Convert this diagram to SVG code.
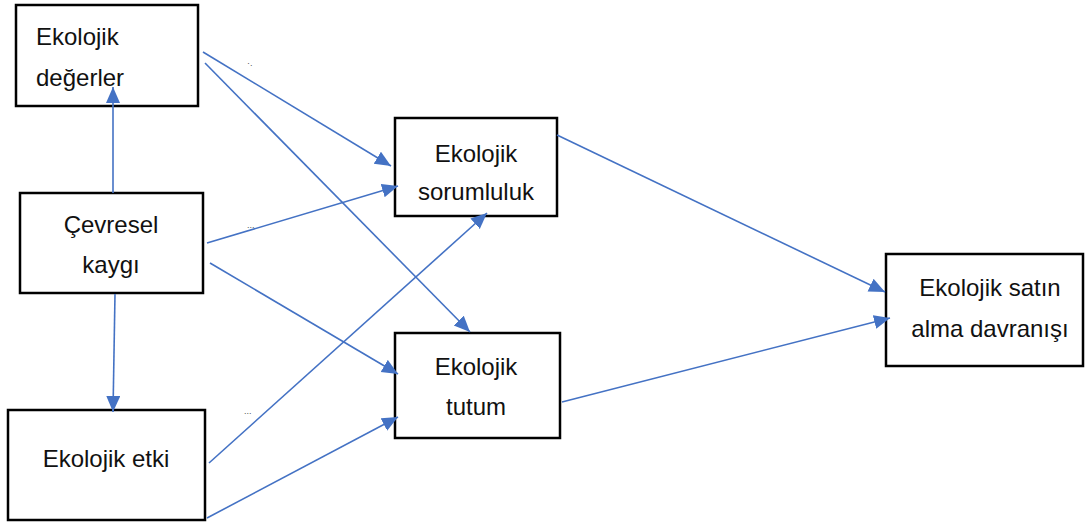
<svg xmlns="http://www.w3.org/2000/svg" width="1086" height="525" viewBox="0 0 1086 525">
<style>
.box{fill:#fff;stroke:#000;stroke-width:2.5}
.lbl{font-family:"Liberation Sans",Arial,sans-serif;font-size:24px;fill:#111}
.c{text-anchor:middle}
.edge{stroke:#4472C4;stroke-width:1.6;fill:none;marker-end:url(#ah)}
.dot{font-family:"Liberation Sans",Arial,sans-serif;font-size:9px;fill:#555}
</style>
<defs>
<marker id="ah" markerUnits="userSpaceOnUse" markerWidth="17" markerHeight="15" refX="16" refY="7" orient="auto">
<path d="M0,0 L16,7 L0,14 z" fill="#4472C4"/>
</marker>
</defs>
<rect width="1086" height="525" fill="#fff"/>
<g id="n-degerler"><rect class="box" x="16" y="5" width="182" height="101"/><text class="lbl" x="36" y="45">Ekolojik</text><text class="lbl" x="36" y="86">değerler</text></g>
<g id="n-kaygi"><rect class="box" x="20" y="193" width="183" height="100"/><text class="lbl c" x="111" y="233">Çevresel</text><text class="lbl c" x="111" y="273">kaygı</text></g>
<g id="n-etki"><rect class="box" x="8" y="410" width="197" height="110"/><text class="lbl c" x="106" y="467">Ekolojik etki</text></g>
<g id="n-sorumluluk"><rect class="box" x="395" y="118" width="162" height="98"/><text class="lbl c" x="476" y="162">Ekolojik</text><text class="lbl c" x="476" y="200">sorumluluk</text></g>
<g id="n-tutum"><rect class="box" x="395" y="333" width="165" height="105"/><text class="lbl c" x="476" y="375">Ekolojik</text><text class="lbl c" x="476" y="415">tutum</text></g>
<g id="n-satin"><rect class="box" x="886" y="254" width="197" height="112"/><text class="lbl c" x="990" y="296">Ekolojik satın</text><text class="lbl c" x="990" y="337">alma davranışı</text></g>
<g id="connectors">
<line class="edge" x1="113" y1="193" x2="113" y2="87"/>
<line class="edge" x1="115" y1="294" x2="113" y2="412"/>
<line class="edge" x1="203" y1="52" x2="391" y2="166"/>
<line class="edge" x1="205" y1="63" x2="470" y2="332"/>
<line class="edge" x1="207" y1="243" x2="398" y2="186"/>
<line class="edge" x1="210" y1="263" x2="398" y2="374"/>
<line class="edge" x1="209" y1="463" x2="487" y2="213"/>
<line class="edge" x1="207" y1="518" x2="398" y2="417"/>
<line class="edge" x1="557" y1="135" x2="885" y2="292"/>
<line class="edge" x1="562" y1="402" x2="890" y2="318"/>
</g>
<text class="dot" x="247" y="66">·.</text>
<text class="dot" x="247" y="228">...</text>
<text class="dot" x="244" y="414">...</text>
</svg>
